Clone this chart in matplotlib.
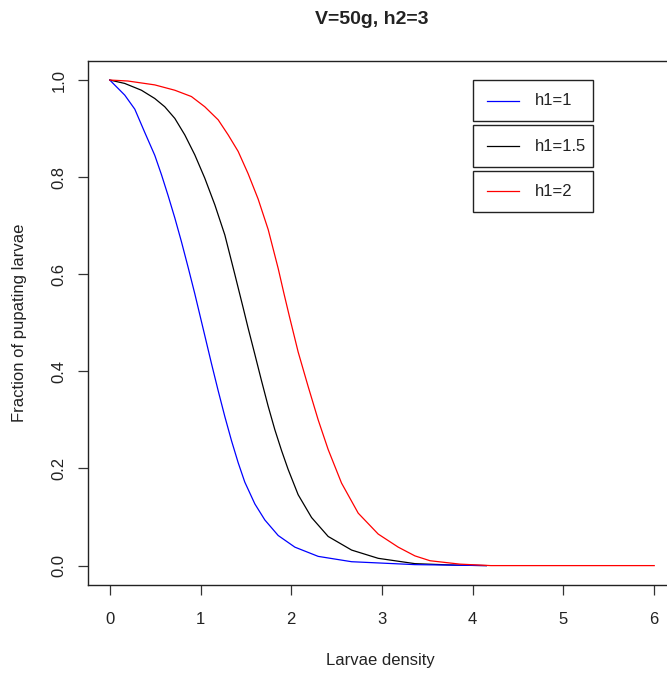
#imports for plotting
import matplotlib.pyplot as plt
from matplotlib.patches import Rectangle

plt.rcParams['font.family'] = ['Liberation Sans', 'DejaVu Sans']

#curve values
density_h1_1 = [0, 0.165, 0.276, 0.386, 0.496, 0.570, 0.643, 0.717, 0.790, 0.864, 0.937,
                0.992, 1.047, 1.121, 1.195, 1.268, 1.342, 1.415, 1.488, 1.599, 1.709,
                1.856, 2.040, 2.297, 2.665, 3.363, 4.15]
pupating_h1_1 = [1.0, 0.969, 0.940, 0.892, 0.845, 0.805, 0.762, 0.716, 0.667, 0.614, 0.560,
                 0.517, 0.474, 0.416, 0.360, 0.307, 0.257, 0.212, 0.172, 0.127, 0.094,
                 0.062, 0.038, 0.019, 0.008, 0.002, 0.0]

density_h1_15 = [0, 0.165, 0.349, 0.496, 0.606, 0.717, 0.827, 0.937, 1.047, 1.158, 1.268,
                 1.378, 1.470, 1.525, 1.599, 1.672, 1.746, 1.819, 1.893, 1.966, 2.076,
                 2.224, 2.407, 2.665, 2.958, 3.363, 3.8, 4.15]
pupating_h1_15 = [1.0, 0.993, 0.979, 0.962, 0.945, 0.921, 0.887, 0.846, 0.798, 0.743, 0.681,
                  0.600, 0.531, 0.489, 0.435, 0.381, 0.328, 0.280, 0.237, 0.198, 0.146,
                  0.099, 0.060, 0.032, 0.015, 0.004, 0.001, 0.0]

density_h1_2 = [0, 0.20, 0.496, 0.717, 0.900, 1.047, 1.195, 1.305, 1.415, 1.525, 1.635,
                1.746, 1.856, 1.920, 1.980, 2.076, 2.186, 2.297, 2.407, 2.554, 2.738,
                2.958, 3.179, 3.363, 3.53, 3.86, 4.2, 6.0]
pupating_h1_2 = [1.0, 0.998, 0.990, 0.979, 0.966, 0.945, 0.918, 0.887, 0.853, 0.807, 0.755,
                 0.692, 0.612, 0.560, 0.513, 0.440, 0.369, 0.300, 0.239, 0.170, 0.108,
                 0.065, 0.038, 0.020, 0.010, 0.003, 0.0, 0.0]

labels = ["h1=1", "h1=1.5", "h1=2"]
colors = ["blue", "black", "red"]

x_ticks = [0, 1, 2, 3, 4, 5, 6]
y_ticks = [0.0, 0.2, 0.4, 0.6, 0.8, 1.0]

fig = plt.figure(figsize=(6.67, 6.75), dpi=100)
#axes run past the right edge, like the cropped original
ax = fig.add_axes([0.1319, 0.1333, 0.8816, 0.7769])

ax.plot(density_h1_15, pupating_h1_15, color="black", lw=0.9, solid_joinstyle="round")
ax.plot(density_h1_1, pupating_h1_1, color="blue", lw=0.9, solid_joinstyle="round")
ax.plot(density_h1_2, pupating_h1_2, color="red", lw=0.9, solid_joinstyle="round")

ax.set_xlim(-0.24, 6.24)
ax.set_ylim(-0.04, 1.04)
ax.set_xticks(x_ticks)
ax.set_xticklabels([str(t) for t in x_ticks])
ax.set_yticks(y_ticks)
ax.set_yticklabels(["%.1f" % t for t in y_ticks], rotation=90, va="center")
ax.tick_params(direction="out", length=7.2, width=0.9, color="#333333",
               labelsize=12, labelcolor="#222222")
ax.tick_params(axis="x", pad=12)
ax.tick_params(axis="y", pad=8)
for s in ax.spines.values():
    s.set_linewidth(1.0)
    s.set_color("#222222")

#three separate legend boxes
for i in range(3):
    top = 1.0 - i * 0.0935
    ax.add_patch(Rectangle((4.0, top - 0.085), 1.32, 0.085, fill=False,
                           edgecolor="#222222", lw=1.0))
    ax.plot([4.16, 4.51], [top - 0.0425, top - 0.0425], color=colors[i], lw=0.9)
    ax.text(4.68, top - 0.0425, labels[i], fontsize=12, va="center", color="#222222")

fig.text(0.558, 1 - 19 / 675, "V=50g, h2=3", ha="center", va="center",
         fontsize=14, fontweight="bold", color="#222222")
fig.text(0.571, 1 - 660 / 675, "Larvae density", ha="center", va="center",
         fontsize=12, color="#222222")
fig.text(20 / 667, 1 - 323 / 675, "Fraction of pupating larvae", ha="center",
         va="center", rotation=90, fontsize=12, color="#222222")

plt.savefig("out.png", dpi=100)
